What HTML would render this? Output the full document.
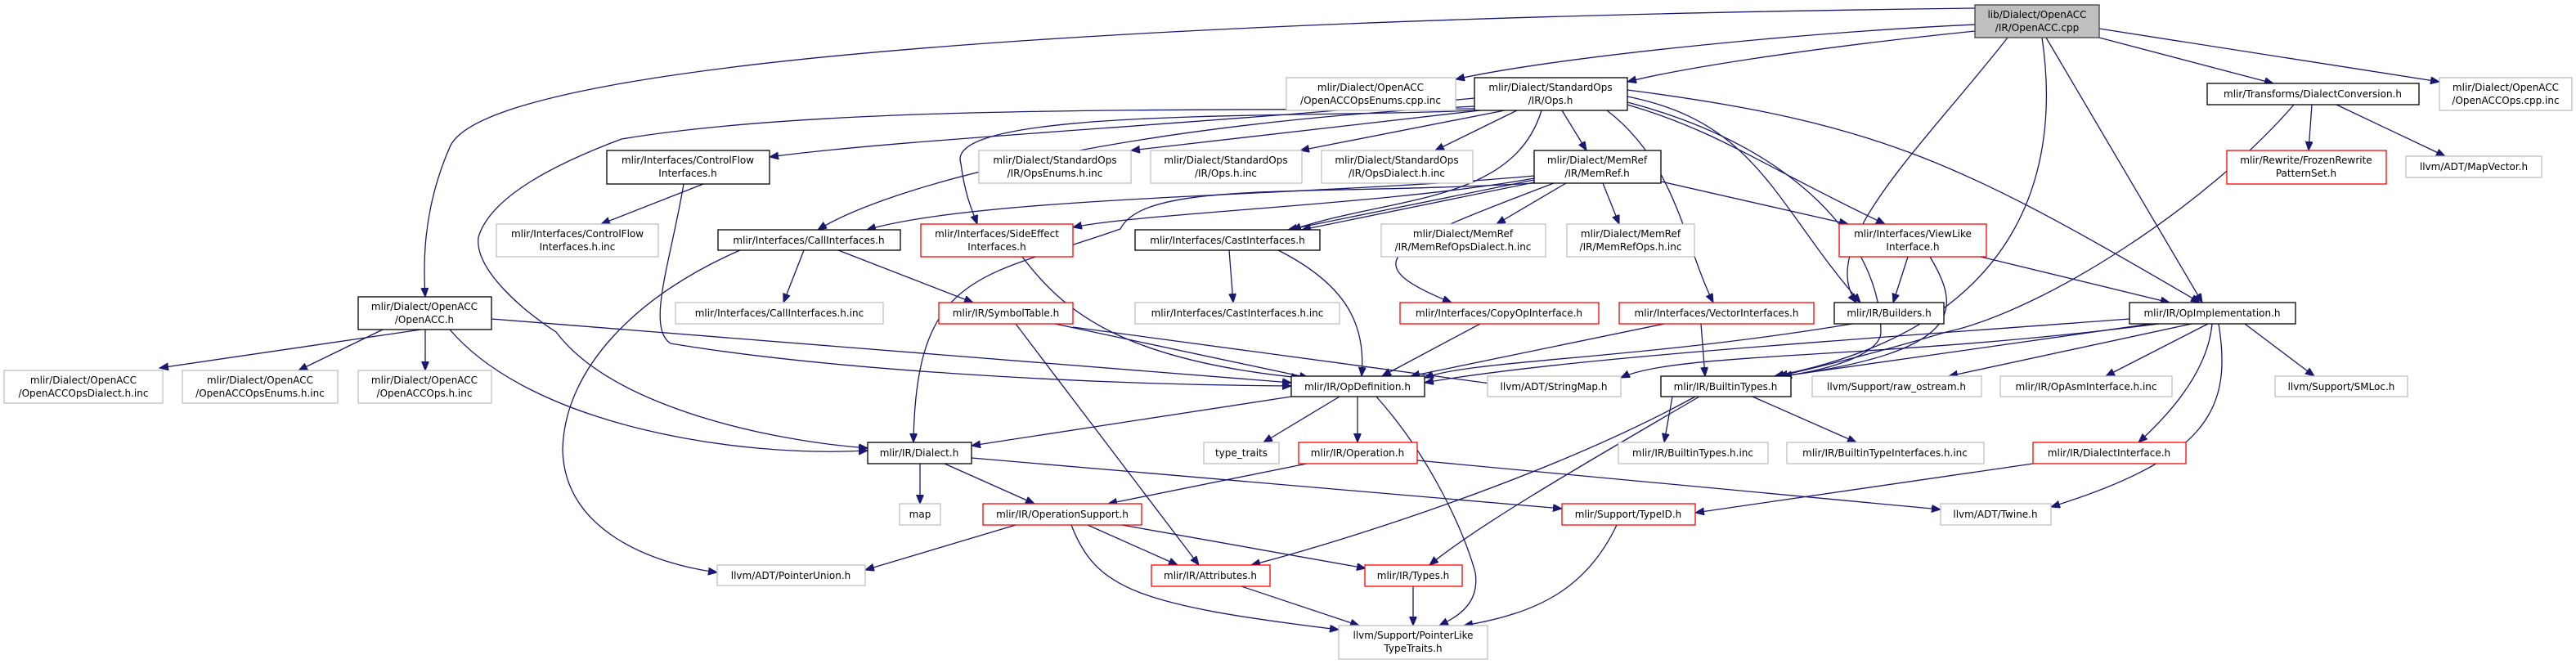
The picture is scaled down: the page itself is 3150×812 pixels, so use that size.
<!DOCTYPE html>
<html><head><meta charset="utf-8"><style>
html,body{margin:0;padding:0;background:#fff;}
svg{display:block;}
text{font-family:"DejaVu Sans","Liberation Sans",sans-serif;font-size:12px;fill:#000;text-anchor:middle;}
.b{fill:#fff;stroke:#000;stroke-width:1.3}
.g{fill:#fff;stroke:#bfbfbf;stroke-width:1.3}
.r{fill:#fff;stroke:#ff0000;stroke-width:1.3}
path.e{fill:none;stroke:#191970;stroke-width:1.3}
</style></head><body>
<svg width="3150" height="812" viewBox="0 0 3150 812" xmlns="http://www.w3.org/2000/svg">
<defs><marker id="a" markerUnits="userSpaceOnUse" markerWidth="12" markerHeight="10" refX="11" refY="4.5" orient="auto"><path d="M0,0 L11,4.5 L0,9 z" fill="#191970" stroke="#191970"/></marker></defs>
<g marker-end="url(#a)">
<path class="e" d="M2415,10 C1600,20 600,60 550,180 C515,260 518,330 520,363"/>
<path class="e" d="M2415,30 C2200,40 1900,70 1780,97"/>
<path class="e" d="M2415,38 C2200,60 2050,85 1990,100"/>
<path class="e" d="M2455,46 C2350,180 2220,300 2270,370"/>
<path class="e" d="M2497,46 C2520,200 2480,400 2170,460"/>
<path class="e" d="M2502,46 L2693,370"/>
<path class="e" d="M2567,46 L2780,102"/>
<path class="e" d="M2567,35 L2983,100"/>
<path class="e" d="M1803,120 C1500,150 1100,170 941,192"/>
<path class="e" d="M1803,130 C1400,150 1100,220 1000,281"/>
<path class="e" d="M1803,135 C1600,145 1150,130 1175,200 C1180,240 1190,260 1195,274"/>
<path class="e" d="M1803,133 C1400,135 1000,130 760,170 C680,200 600,240 585,290 C580,330 640,380 680,406 C750,500 950,540 1061,548"/>
<path class="e" d="M1810,135 L1383,184"/>
<path class="e" d="M1840,135 L1590,184"/>
<path class="e" d="M1855,135 L1755,184"/>
<path class="e" d="M1910,135 L1940,184"/>
<path class="e" d="M1885,135 C1850,250 1700,240 1580,281"/>
<path class="e" d="M1965,135 C2050,200 2060,300 2095,370"/>
<path class="e" d="M1990,128 C2100,160 2150,200 2305,274"/>
<path class="e" d="M1990,118 C2150,150 2170,250 2275,370"/>
<path class="e" d="M1990,125 C2200,180 2300,300 2300,406 C2300,440 2200,460 2170,460"/>
<path class="e" d="M1990,110 C2300,150 2400,200 2690,370"/>
<path class="e" d="M1876,215 C1600,240 1200,240 1060,281"/>
<path class="e" d="M1876,218 C1700,250 1400,260 1312,278"/>
<path class="e" d="M1876,220 L1575,281"/>
<path class="e" d="M1876,223 L1592,281"/>
<path class="e" d="M1915,224 L1830,274"/>
<path class="e" d="M1960,224 L1980,274"/>
<path class="e" d="M2031,222 L2260,274"/>
<path class="e" d="M1876,224 C1600,240 1400,220 1370,280 C1200,340 1120,330 1117,541"/>
<path class="e" d="M1900,224 C1700,300 1650,320 1775,370"/>
<path class="e" d="M860,225 L735,274"/>
<path class="e" d="M836,225 C820,320 790,400 820,420 C1000,450 1300,470 1579,472"/>
<path class="e" d="M983,306 L958,370"/>
<path class="e" d="M1025,306 L1190,370"/>
<path class="e" d="M905,306 C780,360 690,450 688,550 C690,650 800,690 877,700"/>
<path class="e" d="M1250,314 C1300,380 1370,440 1590,462"/>
<path class="e" d="M1503,306 L1508,370"/>
<path class="e" d="M1563,306 C1650,350 1670,400 1665,460"/>
<path class="e" d="M1290,396 L1600,462"/>
<path class="e" d="M1242,396 L1466,691"/>
<path class="e" d="M1312,400 L1830,470"/>
<path class="e" d="M1810,396 L1690,460"/>
<path class="e" d="M2035,396 L1725,460"/>
<path class="e" d="M2080,396 L2085,460"/>
<path class="e" d="M2265,396 C2000,440 1800,440 1742,462"/>
<path class="e" d="M2333,314 L2315,370"/>
<path class="e" d="M2422,314 L2653,370"/>
<path class="e" d="M2360,314 C2400,380 2400,430 2180,460"/>
<path class="e" d="M2827,128 L2823,184"/>
<path class="e" d="M2857,128 L2990,191"/>
<path class="e" d="M2805,128 C2700,250 2500,380 2380,406 C2300,430 2220,450 2175,460"/>
<path class="e" d="M2604,390 C2200,420 1900,440 1742,468"/>
<path class="e" d="M2640,396 C2300,440 2050,430 1982,462"/>
<path class="e" d="M2630,396 L2180,460"/>
<path class="e" d="M2680,396 L2383,460"/>
<path class="e" d="M2700,396 L2575,460"/>
<path class="e" d="M2745,396 L2830,460"/>
<path class="e" d="M2705,396 C2700,450 2660,500 2615,541"/>
<path class="e" d="M2713,396 C2730,500 2700,560 2508,620"/>
<path class="e" d="M515,403 L195,450"/>
<path class="e" d="M468,403 L365,453"/>
<path class="e" d="M520,403 L520,453"/>
<path class="e" d="M601,390 L1579,468"/>
<path class="e" d="M550,403 C650,520 900,560 1061,551"/>
<path class="e" d="M1579,485 L1188,545"/>
<path class="e" d="M1638,485 L1545,541"/>
<path class="e" d="M1660,485 L1660,541"/>
<path class="e" d="M1683,485 C1750,560 1790,650 1804,700 C1810,740 1780,755 1760,765"/>
<path class="e" d="M1125,567 L1125,616"/>
<path class="e" d="M1155,567 L1265,616"/>
<path class="e" d="M1188,560 L1910,622"/>
<path class="e" d="M1598,567 L1355,616"/>
<path class="e" d="M1733,563 L2373,623"/>
<path class="e" d="M1242,642 L1058,697"/>
<path class="e" d="M1330,642 L1440,691"/>
<path class="e" d="M1372,642 L1670,695"/>
<path class="e" d="M1310,642 C1340,720 1390,740 1637,770"/>
<path class="e" d="M2045,485 L2035,541"/>
<path class="e" d="M2143,485 L2270,541"/>
<path class="e" d="M2073,485 C1900,580 1650,660 1530,691"/>
<path class="e" d="M2078,485 C1950,560 1810,640 1748,691"/>
<path class="e" d="M2486,567 L2073,627"/>
<path class="e" d="M1977,642 C1940,720 1880,750 1790,765"/>
<path class="e" d="M1518,717 L1662,765"/>
<path class="e" d="M1728,717 L1728,765"/>
</g>
<rect x="2415" y="6" width="152" height="40" fill="#bfbfbf" stroke="#404040" stroke-width="1.3"/><text x="2491" y="22">lib/Dialect/OpenACC</text><text x="2491" y="38">/IR/OpenACC.cpp</text>
<rect class="g" x="1573" y="95" width="207" height="40"/><text x="1676" y="111">mlir/Dialect/OpenACC</text><text x="1676" y="127">/OpenACCOpsEnums.cpp.inc</text>
<rect class="b" x="1803" y="95" width="187" height="40"/><text x="1896" y="111">mlir/Dialect/StandardOps</text><text x="1896" y="127">/IR/Ops.h</text>
<rect class="b" x="2699" y="102" width="259" height="26"/><text x="2828" y="119">mlir/Transforms/DialectConversion.h</text>
<rect class="g" x="2983" y="95" width="162" height="40"/><text x="3064" y="111">mlir/Dialect/OpenACC</text><text x="3064" y="127">/OpenACCOps.cpp.inc</text>
<rect class="b" x="742" y="184" width="199" height="41"/><text x="841" y="200">mlir/Interfaces/ControlFlow</text><text x="841" y="216">Interfaces.h</text>
<rect class="g" x="1197" y="184" width="186" height="40"/><text x="1290" y="200">mlir/Dialect/StandardOps</text><text x="1290" y="216">/IR/OpsEnums.h.inc</text>
<rect class="g" x="1407" y="184" width="185" height="40"/><text x="1499" y="200">mlir/Dialect/StandardOps</text><text x="1499" y="216">/IR/Ops.h.inc</text>
<rect class="g" x="1616" y="184" width="185" height="40"/><text x="1708" y="200">mlir/Dialect/StandardOps</text><text x="1708" y="216">/IR/OpsDialect.h.inc</text>
<rect class="b" x="1876" y="184" width="155" height="40"/><text x="1953" y="200">mlir/Dialect/MemRef</text><text x="1953" y="216">/IR/MemRef.h</text>
<rect class="r" x="2723" y="184" width="195" height="41"/><text x="2820" y="200">mlir/Rewrite/FrozenRewrite</text><text x="2820" y="216">PatternSet.h</text>
<rect class="g" x="2942" y="191" width="166" height="26"/><text x="3025" y="208">llvm/ADT/MapVector.h</text>
<rect class="g" x="607" y="274" width="198" height="40"/><text x="706" y="290">mlir/Interfaces/ControlFlow</text><text x="706" y="306">Interfaces.h.inc</text>
<rect class="b" x="878" y="281" width="223" height="25"/><text x="989" y="298">mlir/Interfaces/CallInterfaces.h</text>
<rect class="r" x="1126" y="274" width="186" height="40"/><text x="1219" y="290">mlir/Interfaces/SideEffect</text><text x="1219" y="306">Interfaces.h</text>
<rect class="b" x="1388" y="281" width="226" height="25"/><text x="1501" y="298">mlir/Interfaces/CastInterfaces.h</text>
<rect class="g" x="1689" y="274" width="201" height="40"/><text x="1789" y="290">mlir/Dialect/MemRef</text><text x="1789" y="306">/IR/MemRefOpsDialect.h.inc</text>
<rect class="g" x="1916" y="274" width="156" height="40"/><text x="1994" y="290">mlir/Dialect/MemRef</text><text x="1994" y="306">/IR/MemRefOps.h.inc</text>
<rect class="r" x="2249" y="274" width="180" height="40"/><text x="2339" y="290">mlir/Interfaces/ViewLike</text><text x="2339" y="306">Interface.h</text>
<rect class="g" x="826" y="370" width="254" height="26"/><text x="953" y="387">mlir/Interfaces/CallInterfaces.h.inc</text>
<rect class="b" x="438" y="363" width="163" height="40"/><text x="519" y="379">mlir/Dialect/OpenACC</text><text x="519" y="395">/OpenACC.h</text>
<rect class="r" x="1148" y="370" width="164" height="26"/><text x="1230" y="387">mlir/IR/SymbolTable.h</text>
<rect class="g" x="1388" y="370" width="250" height="26"/><text x="1513" y="387">mlir/Interfaces/CastInterfaces.h.inc</text>
<rect class="r" x="1712" y="370" width="243" height="26"/><text x="1833" y="387">mlir/Interfaces/CopyOpInterface.h</text>
<rect class="r" x="1980" y="370" width="238" height="26"/><text x="2099" y="387">mlir/Interfaces/VectorInterfaces.h</text>
<rect class="b" x="2243" y="370" width="134" height="26"/><text x="2310" y="387">mlir/IR/Builders.h</text>
<rect class="b" x="2604" y="370" width="203" height="26"/><text x="2705" y="387">mlir/IR/OpImplementation.h</text>
<rect class="g" x="5" y="453" width="194" height="40"/><text x="102" y="469">mlir/Dialect/OpenACC</text><text x="102" y="485">/OpenACCOpsDialect.h.inc</text>
<rect class="g" x="223" y="453" width="190" height="40"/><text x="318" y="469">mlir/Dialect/OpenACC</text><text x="318" y="485">/OpenACCOpsEnums.h.inc</text>
<rect class="g" x="438" y="453" width="163" height="40"/><text x="519" y="469">mlir/Dialect/OpenACC</text><text x="519" y="485">/OpenACCOps.h.inc</text>
<rect class="b" x="1579" y="460" width="163" height="25"/><text x="1660" y="477">mlir/IR/OpDefinition.h</text>
<rect class="g" x="1819" y="460" width="163" height="25"/><text x="1900" y="477">llvm/ADT/StringMap.h</text>
<rect class="b" x="2031" y="460" width="159" height="25"/><text x="2110" y="477">mlir/IR/BuiltinTypes.h</text>
<rect class="g" x="2216" y="460" width="207" height="25"/><text x="2319" y="477">llvm/Support/raw_ostream.h</text>
<rect class="g" x="2446" y="460" width="210" height="25"/><text x="2551" y="477">mlir/IR/OpAsmInterface.h.inc</text>
<rect class="g" x="2782" y="460" width="162" height="25"/><text x="2863" y="477">llvm/Support/SMLoc.h</text>
<rect class="b" x="1061" y="541" width="127" height="26"/><text x="1124" y="558">mlir/IR/Dialect.h</text>
<rect class="g" x="1472" y="541" width="92" height="26"/><text x="1518" y="558">type_traits</text>
<rect class="r" x="1588" y="541" width="145" height="26"/><text x="1660" y="558">mlir/IR/Operation.h</text>
<rect class="g" x="1979" y="541" width="183" height="26"/><text x="2070" y="558">mlir/IR/BuiltinTypes.h.inc</text>
<rect class="g" x="2185" y="541" width="241" height="26"/><text x="2305" y="558">mlir/IR/BuiltinTypeInterfaces.h.inc</text>
<rect class="r" x="2486" y="541" width="187" height="26"/><text x="2579" y="558">mlir/IR/DialectInterface.h</text>
<rect class="g" x="1100" y="616" width="50" height="26"/><text x="1125" y="633">map</text>
<rect class="r" x="1202" y="616" width="194" height="26"/><text x="1299" y="633">mlir/IR/OperationSupport.h</text>
<rect class="r" x="1910" y="616" width="163" height="26"/><text x="1991" y="633">mlir/Support/TypeID.h</text>
<rect class="g" x="2373" y="616" width="135" height="26"/><text x="2440" y="633">llvm/ADT/Twine.h</text>
<rect class="g" x="877" y="691" width="181" height="25"/><text x="967" y="708">llvm/ADT/PointerUnion.h</text>
<rect class="r" x="1408" y="691" width="145" height="26"/><text x="1480" y="708">mlir/IR/Attributes.h</text>
<rect class="r" x="1669" y="691" width="119" height="26"/><text x="1728" y="708">mlir/IR/Types.h</text>
<rect class="g" x="1637" y="765" width="182" height="41"/><text x="1728" y="781">llvm/Support/PointerLike</text><text x="1728" y="797">TypeTraits.h</text>
</svg>
</body></html>
